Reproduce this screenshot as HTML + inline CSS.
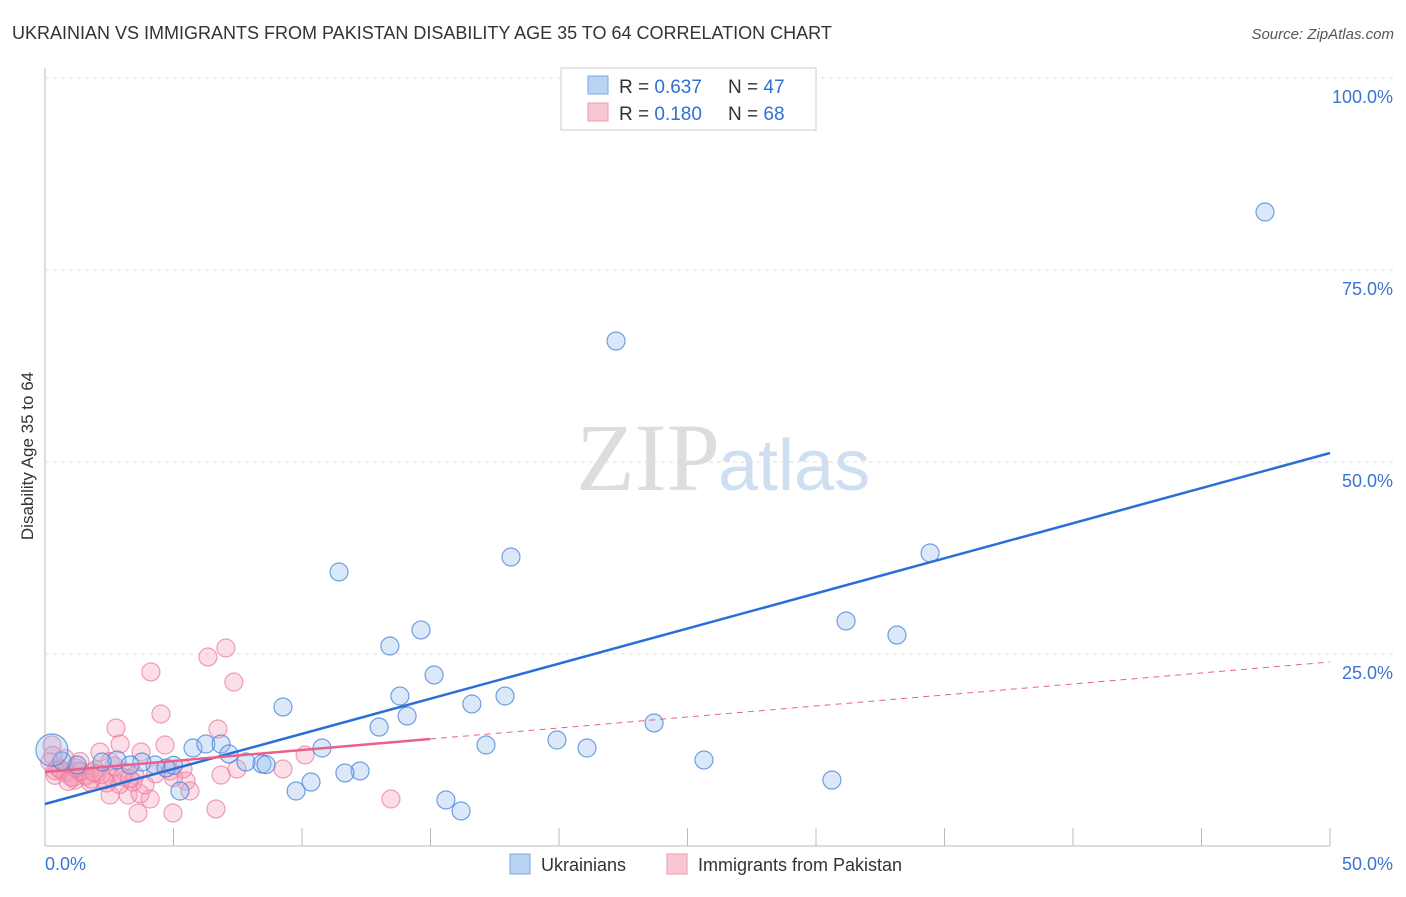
<!DOCTYPE html>
<html><head><meta charset="utf-8"><style>
body{margin:0;background:#fff;font-family:"Liberation Sans",sans-serif;}
</style></head><body>
<svg id="chart" width="1406" height="892" xmlns="http://www.w3.org/2000/svg">
<text x="12" y="39" font-size="18" fill="#333">UKRAINIAN VS IMMIGRANTS FROM PAKISTAN DISABILITY AGE 35 TO 64 CORRELATION CHART</text>
<text x="1394" y="39" font-size="15" fill="#555" font-style="italic" text-anchor="end">Source: ZipAtlas.com</text>
<text x="720" y="490" font-size="96" fill="#ddd" text-anchor="end" font-family="Liberation Serif,serif">ZIP</text>
<text x="718" y="490" font-size="72" fill="#cfdff2">atlas</text>
<text transform="translate(33,456) rotate(-90)" font-size="17" fill="#333" text-anchor="middle">Disability Age 35 to 64</text>
<g id="grid"></g><g id="pts"></g><g id="lines"></g>
<g>
<rect x="561" y="68" width="255" height="62" fill="#fff" stroke="#ccc"/>
<rect x="588" y="76" width="20" height="18" fill="#b9d3f3" stroke="#7aa8e0"/>
<rect x="588" y="103" width="20" height="18" fill="#f9c6d4" stroke="#ee9ab2"/>
<text x="619" y="93" font-size="19" fill="#333">R = <tspan fill="#2f6fd6">0.637</tspan></text>
<text x="728" y="93" font-size="19" fill="#333">N = <tspan fill="#2f6fd6">47</tspan></text>
<text x="619" y="120" font-size="19" fill="#333">R = <tspan fill="#2f6fd6">0.180</tspan></text>
<text x="728" y="120" font-size="19" fill="#333">N = <tspan fill="#2f6fd6">68</tspan></text>
</g>
<g>
<rect x="510" y="854" width="20" height="20" fill="#b9d3f3" stroke="#7aa8e0"/>
<text x="541" y="871" font-size="18" fill="#333">Ukrainians</text>
<rect x="667" y="854" width="20" height="20" fill="#f9c6d4" stroke="#ee9ab2"/>
<text x="698" y="871" font-size="18" fill="#333">Immigrants from Pakistan</text>
</g>
</svg>
<script>
const xTicks=[0,5,10,15,20,25,30,35,40,45,50];
const yTicks=[25,50,75,100];
const blueX=[47.47,22.22,34.44,18.13,11.44,31.17,33.15,14.63,13.42,15.14,9.26,13.81,17.90,16.61,14.09,13.0,23.70,19.92,17.16,21.09,10.78,25.64,30.62,12.26,11.67,10.35,9.77,15.60,16.19,5.25,5.76,6.26,6.85,7.16,8.44,8.6,4.28,4.71,3.77,2.80,3.31,2.22,1.25,0.66,7.82,5.0,0.27];
const blueY=[82.55,65.76,38.15,37.63,35.68,29.30,27.47,28.13,26.04,22.27,18.10,19.53,19.53,18.49,16.93,15.49,16.02,13.80,13.15,12.76,12.76,11.20,8.59,9.77,9.51,8.33,7.16,5.99,4.56,7.16,12.76,13.28,13.28,11.98,10.68,10.6,10.55,10.16,10.94,11.2,10.55,10.94,10.55,11.07,10.94,10.5,12.5];
const pinkX=[4.12,6.34,7.04,7.35,4.51,6.73,2.76,4.67,10.12,2.92,3.74,2.14,9.26,7.47,6.85,5.49,5.64,13.46,6.65,4.98,3.62,4.09,3.23,2.53,3.70,2.41,1.75,1.17,0.58,0.19,0.39,0.97,1.56,1.95,2.61,3.11,3.42,3.89,1.36,0.78,2.53,5.37,4.86,0.27,1.0,1.3,2.0,2.3,2.9,3.5,0.5,0.8,1.1,1.6,1.8,2.2,0.3,0.6,1.4,2.7,3.0,3.3,4.3,5.0,1.9,0.9,1.2,0.4];
const pinkY=[22.66,24.61,25.78,21.35,17.19,15.23,15.36,13.15,11.85,13.28,12.24,12.24,10.03,10.03,9.24,8.46,7.16,6.12,4.82,4.30,4.30,6.12,6.64,6.64,6.8,8.2,8.33,8.59,9.9,10.94,9.2,9.5,9.24,9.9,8.85,9.64,8.33,7.94,11.0,11.4,11.0,10.03,9.77,13.15,9.0,9.8,9.4,8.6,8.0,9.2,10.3,9.6,8.9,9.1,8.7,9.3,11.8,10.0,9.7,10.4,9.0,8.8,9.4,8.9,9.6,8.4,10.2,9.8];
const blueTrend=[5.47,51.17];
const pinkTrend=[9.64,23.96];
const pinkSolidEnd=14.98;
const ns="http://www.w3.org/2000/svg";
const X=v=>45+v/50*1285, Y=v=>846-v/100*768;
function mk(t,a,p){const e=document.createElementNS(ns,t);for(const k in a)e.setAttribute(k,a[k]);p.appendChild(e);return e;}
const g=document.getElementById('grid'),P=document.getElementById('pts'),L=document.getElementById('lines');
mk('line',{x1:45,y1:68,x2:45,y2:846,stroke:'#bbb'},g);
mk('line',{x1:45,y1:846,x2:1330,y2:846,stroke:'#bbb'},g);
yTicks.forEach(v=>{const l=mk('line',{x1:45,y1:Y(v),x2:1394,y2:Y(v),stroke:'#ddd','stroke-dasharray':'4,4'},g);

const t=mk('text',{x:1393,y:Y(v)+25,'font-size':18,fill:'#3a74d4','text-anchor':'end'},g);t.textContent=v.toFixed(1)+'%';
});
xTicks.forEach(v=>{if(v>0){const l=mk('line',{x1:X(v),y1:828,x2:X(v),y2:846,stroke:'#bbb'},g);
}});
[[0,'start',45],[50,'end',1393]].forEach(([v,a,x])=>{const t=mk('text',{x:x,y:870,'font-size':18,fill:'#3a74d4','text-anchor':a},g);t.textContent=v.toFixed(1)+'%';
});
pinkX.forEach((v,i)=>{const c=mk('circle',{cx:X(v),cy:Y(pinkY[i]),r:9,fill:'rgba(245,160,185,0.35)',stroke:'rgba(235,120,155,0.7)','stroke-width':1.2},P);
});
blueX.forEach((v,i)=>{const c=mk('circle',{cx:X(v),cy:Y(blueY[i]),r:i==blueX.length-1?16:9,fill:'rgba(150,190,240,0.35)',stroke:'rgba(70,130,215,0.75)','stroke-width':1.2},P);
});
const pAt=x=>pinkTrend[0]+(pinkTrend[1]-pinkTrend[0])*x/50;
let l=mk('line',{x1:X(0),y1:Y(blueTrend[0]),x2:X(50),y2:Y(blueTrend[1]),stroke:'#2a6fd6','stroke-width':2.5},L);

l=mk('line',{x1:X(0),y1:Y(pAt(0)),x2:X(pinkSolidEnd),y2:Y(pAt(pinkSolidEnd)),stroke:'#e8618c','stroke-width':2.5},L);

l=mk('line',{x1:X(pinkSolidEnd),y1:Y(pAt(pinkSolidEnd)),x2:X(50),y2:Y(pAt(50)),stroke:'#e8618c','stroke-width':1,'stroke-dasharray':'6,5'},L);

</script>
</body></html>
